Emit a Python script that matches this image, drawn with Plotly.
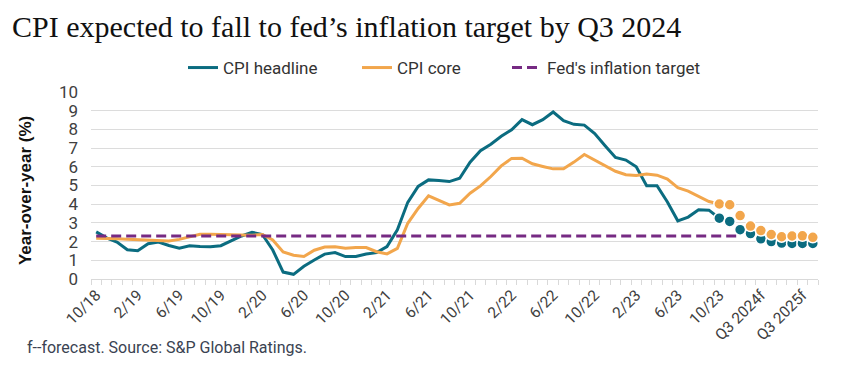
import plotly.graph_objects as go

# ---- data ----
month_labels = [f"{m}/{y}" for y, ms in [(18, range(10, 13)), (19, range(1, 13)), (20, range(1, 13)),
                                          (21, range(1, 13)), (22, range(1, 13)), (23, range(1, 11))] for m in ms]
forecast_labels = ["Q4 2023f", "Q1 2024f", "Q2 2024f", "Q3 2024f", "Q4 2024f",
                   "Q1 2025f", "Q2 2025f", "Q3 2025f", "Q4 2025f"]
categories = month_labels + forecast_labels

tick_labels = ["10/18", "2/19", "6/19", "10/19", "2/20", "6/20", "10/20", "2/21", "6/21",
               "10/21", "2/22", "6/22", "10/22", "2/23", "6/23", "10/23", "Q3 2024f", "Q3 2025f"]

cpi_headline = [2.52, 2.20, 1.97, 1.56, 1.51, 1.89, 1.98, 1.79, 1.65, 1.78, 1.74, 1.73,
                1.78, 2.05, 2.30, 2.50, 2.38, 1.55, 0.37, 0.25, 0.68, 1.02, 1.33, 1.41,
                1.20, 1.20, 1.34, 1.41, 1.73, 2.63, 4.10, 4.95, 5.30, 5.27, 5.21, 5.39,
                6.25, 6.86, 7.21, 7.63, 7.98, 8.52, 8.25, 8.52, 8.93, 8.47, 8.27, 8.23,
                7.78, 7.13, 6.50, 6.36, 6.00, 4.99, 4.99, 4.12, 3.11, 3.31, 3.70, 3.68, 3.25]
cpi_core = [2.18, 2.18, 2.15, 2.12, 2.10, 2.07, 2.07, 2.03, 2.12, 2.26, 2.39, 2.39,
            2.37, 2.35, 2.35, 2.34, 2.38, 2.09, 1.45, 1.27, 1.20, 1.54, 1.71, 1.73,
            1.64, 1.69, 1.68, 1.46, 1.34, 1.64, 2.98, 3.77, 4.45, 4.20, 3.96, 4.05,
            4.59, 4.98, 5.48, 6.05, 6.45, 6.46, 6.16, 6.02, 5.89, 5.89, 6.25, 6.66,
            6.36, 6.05, 5.76, 5.58, 5.54, 5.61, 5.55, 5.34, 4.88, 4.70, 4.41, 4.14, 4.01]
headline_forecast = [3.25, 3.08, 2.64, 2.43, 2.15, 2.00, 1.92, 1.90, 1.90, 1.90]
core_forecast = [4.01, 3.97, 3.39, 2.83, 2.59, 2.38, 2.26, 2.30, 2.31, 2.23]
fed_target = [2.3] * 63

# ---- positions from categories ----
idx = {c: i for i, c in enumerate(categories)}
x_hist = [idx[c] for c in month_labels]
x_fc = [idx[c] for c in categories[len(month_labels) - 1:]]
x_target = list(range(len(fed_target)))
tick_pos = [idx[t] for t in tick_labels]

TEAL = "#0b6c80"
ORANGE = "#f2a64c"
PURPLE = "#762a83"
SANS = "Roboto, Arial, sans-serif"

# page has an 8px body margin; figure coordinates are offset by that
L, R, T, B = 83, 57, 84, 101
PW, PH = 867 - L - R, 372 - T - B

fig = go.Figure()
fig.add_trace(go.Scatter(x=x_hist, y=cpi_headline, mode="lines", name="CPI headline",
                         line=dict(color=TEAL, width=3), legend="legend"))
fig.add_trace(go.Scatter(x=x_hist, y=cpi_core, mode="lines", name="CPI core",
                         line=dict(color=ORANGE, width=3), legend="legend2"))
fig.add_trace(go.Scatter(x=x_target, y=fed_target, mode="lines", name="Fed's inflation target",
                         line=dict(color=PURPLE, width=3, dash="10px,5px"), legend="legend3"))
fig.add_trace(go.Scatter(x=x_fc, y=headline_forecast, mode="markers", showlegend=False,
                         marker=dict(color=TEAL, size=11, line=dict(color="white", width=1.5))))
fig.add_trace(go.Scatter(x=x_fc, y=core_forecast, mode="markers", showlegend=False,
                         marker=dict(color=ORANGE, size=11, line=dict(color="white", width=1.5))))

leg_font = dict(family=SANS, size=17, color="#333333")
leg_y = 1 + (84 - 60) / PH  # legend middle at page y 68


def leg(text_start_page):
    # symbol+gap occupies about 41px before the text
    return dict(orientation="h", x=(text_start_page - 8 - 41 - L) / PW, xanchor="left",
                y=leg_y, yanchor="middle", font=leg_font, bgcolor="rgba(0,0,0,0)")


fig.update_layout(
    width=867, height=372,
    margin=dict(l=L, r=R, t=T, b=B, autoexpand=False),
    paper_bgcolor="white", plot_bgcolor="white",
    legend=leg(224), legend2=leg(398), legend3=leg(548),
    showlegend=True,
    font=dict(family=SANS, size=15, color="#404040"),
)
fig.add_annotation(text="CPI expected to fall to fed’s inflation target by Q3 2024",
                   xref="paper", yref="paper",
                   x=(2 - L) / PW, y=1 + T / PH, xanchor="left", yanchor="top",
                   showarrow=False,
                   font=dict(family="Liberation Serif, serif", size=30, color="#111111"))
fig.update_xaxes(range=[-0.5, len(categories) - 0.5], automargin=False,
                 tickmode="array", tickvals=tick_pos, ticktext=tick_labels,
                 tickangle=-45, ticks="", showgrid=False, zeroline=False,
                 showline=True, linecolor="#d9d9d9", linewidth=1,
                 tickfont=dict(family=SANS, size=15.5, color="#404040"),
                 minor=dict(tickmode="array", tickvals=[i - 0.5 for i in range(len(categories) + 1)],
                            ticks="outside", ticklen=5, tickcolor="#d9d9d9", tickwidth=1, showgrid=False))
fig.update_yaxes(range=[0, 10], tickmode="linear", tick0=0, dtick=1, automargin=False,
                 showgrid=True, gridcolor="#dcdcdc", gridwidth=1, zeroline=False,
                 ticks="", ticklabelstandoff=12,
                 tickfont=dict(family=SANS, size=17, color="#404040"))

fig.add_annotation(text="<b>Year-over-year (%)</b>", xref="paper", yref="paper",
                   x=(17 - L) / PW, y=0.47, xanchor="center", yanchor="middle",
                   textangle=-90, showarrow=False,
                   font=dict(family="Liberation Sans, Arial, sans-serif", size=17, color="#111111"))
fig.add_annotation(text="f--forecast. Source: S&P Global Ratings.", xref="paper", yref="paper",
                   x=(17 - L) / PW, y=(271 - 339) / PH, xanchor="left", yanchor="middle",
                   showarrow=False, font=dict(family=SANS, size=16, color="#3a4352"))

fig.write_html("out.html")
